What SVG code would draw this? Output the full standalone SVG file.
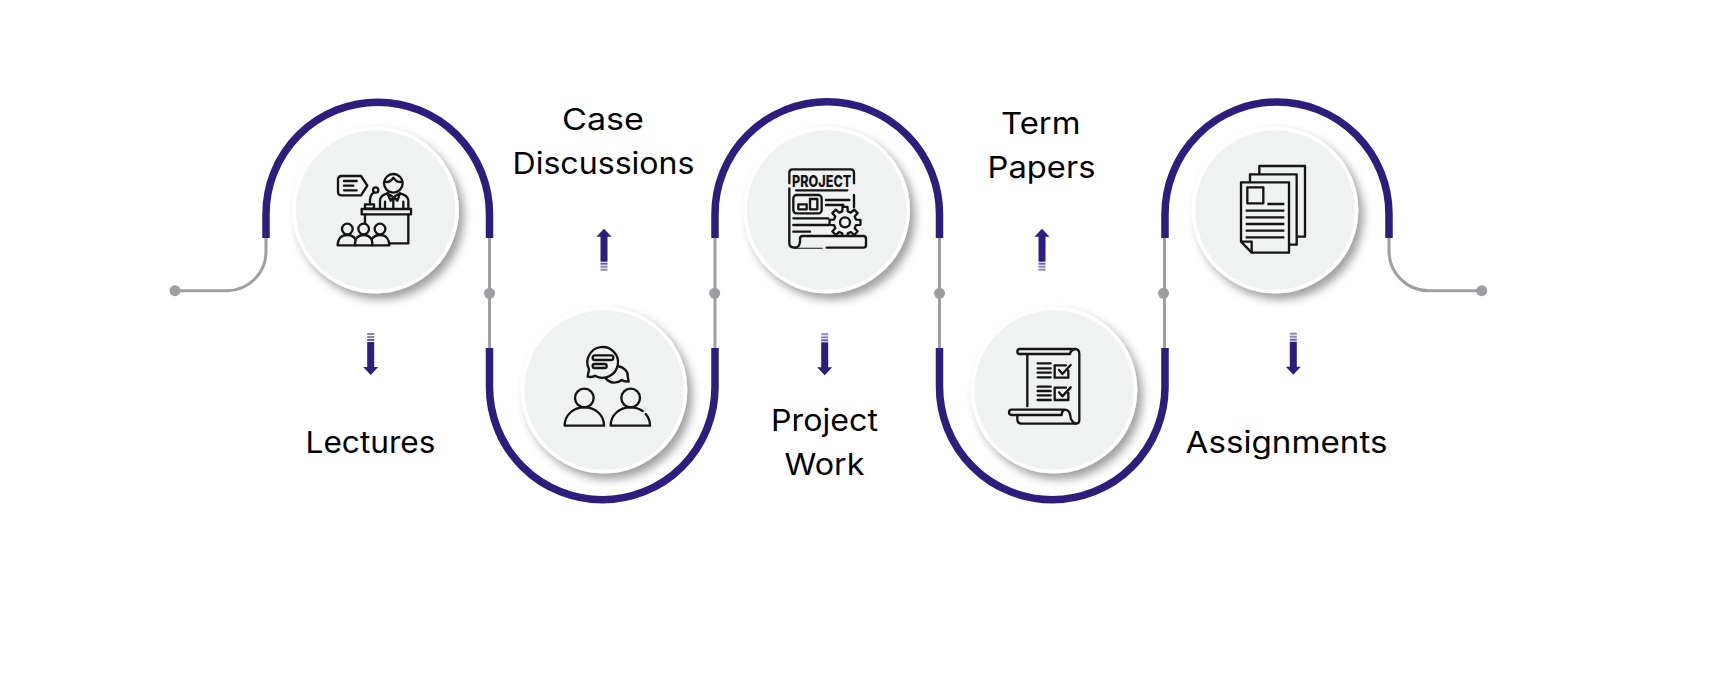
<svg xmlns="http://www.w3.org/2000/svg" width="1720" height="697" viewBox="0 0 1720 697">
<style>
.band{fill:none;stroke:#2e1d7c;stroke-width:7.5}
.wire{fill:none;stroke:#9d9ea2;stroke-width:3}
.dot{fill:#9d9ea2}
.disc{fill:#f0f1f1;stroke:#fff;stroke-width:3.5;filter:url(#sh)}
.ic{fill:none;stroke:#141414;stroke-width:7;stroke-linecap:round;stroke-linejoin:round}
.ic .bg{fill:#f0f1f1}
.lab{font-family:Inter,"Liberation Sans",sans-serif;font-size:30px;font-weight:400;fill:#000}
</style>
<defs>
<filter id="sh" x="-20%" y="-20%" width="150%" height="150%"><feDropShadow dx="5" dy="6" stdDeviation="5" flood-color="#000" flood-opacity=".38"/></filter>
<g id="arrow">
<rect x="-3.5" y="0" width="7" height="2" fill="#8d84bb"/><rect x="-3.5" y="3" width="7" height="2" fill="#8d84bb"/><rect x="-3.5" y="6" width="7" height="2" fill="#6a5ea6"/>
<rect x="-3.5" y="9" width="7" height="26" fill="#2e1d7c"/>
<polygon points="-7.5,34 7.5,34 0,42" fill="#2e1d7c"/>
</g>
</defs>
<rect width="1720" height="697" fill="#fff"/>
<g id="connectors">
<path class="wire" d="M175 290.7H227A39 39 0 0 0 266 251.7V238"/>
<path class="wire" d="M489.5 238V348M715 238V348M939.5 238V348M1164.5 238V348"/>
<path class="wire" d="M1389 238V251A39.7 39.7 0 0 0 1428.7 290.7H1481"/>
<circle class="dot" cx="175" cy="290.7" r="5.5"/><circle class="dot" cx="489.5" cy="293.3" r="5.5"/><circle class="dot" cx="714.7" cy="293.3" r="5.5"/><circle class="dot" cx="939.5" cy="293.3" r="5.5"/><circle class="dot" cx="1163.5" cy="293.3" r="5.5"/><circle class="dot" cx="1481.7" cy="290.7" r="5.5"/>
<path class="band" d="M266 238V214A111.75 111.75 0 0 1 489.5 214V238"/>
<path class="band" d="M489.5 348V387A112.75 112.75 0 0 0 715 387V348"/>
<path class="band" d="M715 238V214A112.25 112.25 0 0 1 939.5 214V238"/>
<path class="band" d="M939.5 348V387A112.75 112.75 0 0 0 1165 387V348"/>
<path class="band" d="M1165 238V214A112 112 0 0 1 1389 214V238"/>
</g>
<g id="node-lectures">
<circle class="disc" cx="375.5" cy="210" r="81.5"/>
<g class="ic" transform="translate(150 80) scale(.33333)">
<path d="M575 288H633L652 317L633 346H575Q564 346 564 335V299Q564 288 575 288Z"/>
<path d="M582 303H620M582 317H610M582 331H620"/>
<circle cx="730" cy="310" r="28"/>
<path d="M703 305Q720 310 730 293Q742 310 757 305"/>
<path d="M690 385V360Q692 345 712 340L730 352L750 340Q772 345 775 360V385"/>
<path d="M712 340L722 362L732 352L742 362L750 340M730 355V385M705 365V385M760 365V385"/>
<circle cx="677" cy="330" r="8"/><path d="M672 337Q658 345 660 372"/>
<rect x="645" y="373" width="27" height="13"/>
<rect x="635" y="387" width="148" height="16"/>
<path d="M775 404V490H718M645 404V430"/>
<circle cx="592" cy="447" r="16"/><circle cx="641" cy="447" r="16"/><circle cx="690" cy="447" r="16"/>
<path d="M563 496C563 475 575 465 592 465C605 465 612 470 617 478C622 470 630 465 641 465C652 465 660 470 665 478C670 470 678 465 690 465C708 465 718 478 718 496Z"/>
<path d="M617 478Q615 485 615 496M665 478Q667 485 667 496"/>
</g>
<use href="#arrow" transform="translate(370.7 333)"/>
<text class="lab" x="305.5" y="452.5" textLength="130" lengthAdjust="spacingAndGlyphs">Lectures</text>
</g>
<g id="node-case-discussions">
<circle class="disc" cx="604" cy="390" r="81.5"/>
<g class="ic" transform="translate(480 280) scale(.33333)">
<path d="M345 287A46 46 0 1 0 327 268L323 290Q335 293 345 287Z"/>
<rect x="338" y="226" width="62" height="14" rx="7"/><rect x="338" y="252" width="42" height="12" rx="6"/>
<path d="M413 258C432 262 445 275 443 288L446 305Q432 305 425 300C410 312 390 310 378 296"/>
<circle cx="313" cy="354" r="28"/><circle cx="452" cy="354" r="28"/>
<path d="M254 437C254 405 280 382 313 382C346 382 372 405 372 437Z"/>
<path d="M497 402C506 412 510 425 510 437H392C392 405 418 382 452 382C465 382 478 386 488 393"/>
</g>
<use href="#arrow" transform="translate(604 270.7) scale(1 -1)"/>
<text class="lab" x="562" y="130.3" textLength="82" lengthAdjust="spacingAndGlyphs">Case</text>
<text class="lab" x="512.5" y="174" textLength="182" lengthAdjust="spacingAndGlyphs">Discussions</text>
</g>
<g id="node-project-work">
<circle class="disc" cx="826.7" cy="210" r="81.5"/>
<g class="ic" transform="translate(730 120) scale(.33333)">
<path d="M178 190V158Q178 148 188 148H362Q372 148 372 158V190M372 225V262M178 205V370Q178 383 195 383H275"/>
<text x="186" y="201" textLength="178" lengthAdjust="spacingAndGlyphs" style="font-family:Inter,'Liberation Sans',sans-serif;font-size:47px;font-weight:800;fill:#141414;stroke:none">PROJECT</text>
<path d="M198 211H352"/>
<rect x="190" y="225" width="85" height="55" rx="10"/>
<rect x="205" y="253" width="25" height="15"/><rect x="240" y="237" width="22" height="31"/>
<path d="M288 240H358M288 255H340M190 295H295M190 315H295M190 335H240"/>
<polygon class="bg" transform="translate(345 307)" points="33,-8.2 46.4,-7.4 46.4,7.4 33,8.2 29.1,17.5 38,27.6 27.6,38 17.5,29.1 8.2,33 7.4,46.4 -7.4,46.4 -8.2,33 -17.5,29.1 -27.6,38 -38,27.6 -29.1,17.5 -33,8.2 -46.4,7.4 -46.4,-7.4 -33,-8.2 -29.1,-17.5 -38,-27.6 -27.6,-38 -17.5,-29.1 -8.2,-33 -7.4,-46.4 7.4,-46.4 8.2,-33 17.5,-29.1 27.6,-38 38,-27.6 29.1,-17.5"/>
<circle cx="345" cy="307" r="15"/>
<path class="bg" d="M195 383Q208 383 210 365V356Q210 348 218 348H400Q408 348 408 356V375Q408 383 400 383H290"/>
</g>
<use href="#arrow" transform="translate(824.7 333.3)"/>
<text class="lab" x="771" y="431.3" textLength="107" lengthAdjust="spacingAndGlyphs">Project</text>
<text class="lab" x="784.5" y="475.3" textLength="80" lengthAdjust="spacingAndGlyphs">Work</text>
</g>
<g id="node-term-papers">
<circle class="disc" cx="1054" cy="390" r="81.5"/>
<g class="ic" transform="translate(960 300) scale(.33333)">
<path d="M180 162Q172 162 172 155Q172 147 180 147H345Q358 147 358 162V360Q358 371 347 371H185Q172 371 172 358V346"/>
<path d="M180 162H330Q332 150 345 147M202 162V318"/>
<path d="M155 345Q147 345 147 337Q147 329 155 329H315Q330 331 331 348Q332 364 347 371M155 345H305Q305 332 315 329"/>
<path d="M233 190H272M233 205H272M233 218H272M233 232H272M233 260H272M233 273H272M233 286H272M233 300H272"/>
<path d="M318 196H284V233H325V212M297 210L307 222L332 195M318 263H284V300H325V279M297 277L307 289L332 262"/>
</g>
<use href="#arrow" transform="translate(1042 270.7) scale(1 -1)"/>
<text class="lab" x="1001" y="134.3" textLength="79.5" lengthAdjust="spacingAndGlyphs">Term</text>
<text class="lab" x="987.5" y="178" textLength="108" lengthAdjust="spacingAndGlyphs">Papers</text>
</g>
<g id="node-assignments">
<circle class="disc" cx="1275" cy="210" r="81.5"/>
<g class="ic" style="stroke-linecap:butt" transform="translate(1180 130) scale(.33333)">
<path d="M238 133V108H375V320H350M210 157V133H350V344H327"/>
<path d="M183 157H327V368H215L183 335Z"/>
<path d="M183 335H215V368"/>
<rect x="202" y="172" width="48" height="48"/>
<path d="M262 222H313M197 242H313M197 262H313M197 282H313M197 302H313M197 322H313"/>
</g>
<use href="#arrow" transform="translate(1293.3 332.7)"/>
<text class="lab" x="1185.5" y="452.5" textLength="202" lengthAdjust="spacingAndGlyphs">Assignments</text>
</g>
</svg>
